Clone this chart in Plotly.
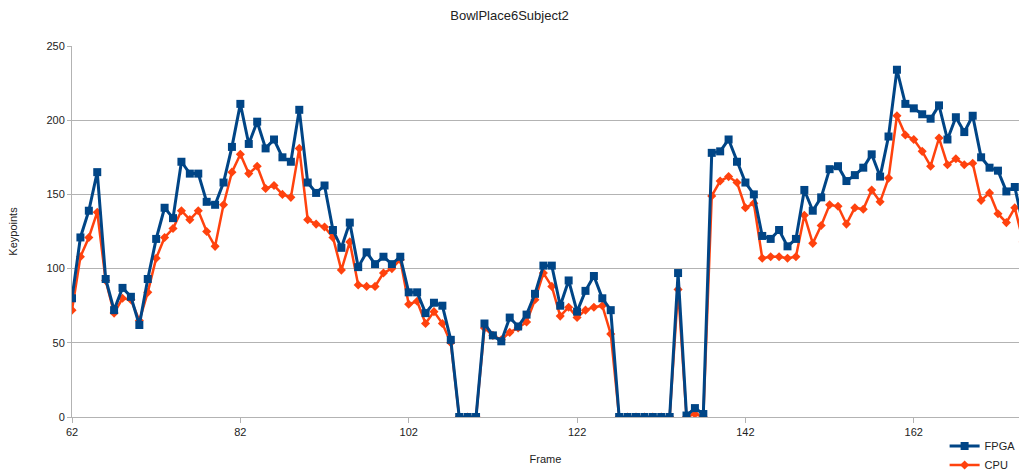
import plotly.graph_objects as go

frames = list(range(62, 176))

fpga = [80, 121, 139, 165, 93, 72, 87, 81, 62, 93,
        120, 141, 134, 172, 164, 164, 145, 143, 158, 182,
        211, 184, 199, 181, 187, 175, 172, 207, 158, 151,
        156, 126, 114, 131, 101, 111, 103, 108, 103, 108,
        84, 84, 70, 77, 75, 52, 0, 0, 0, 63,
        55, 51, 67, 61, 69, 83, 102, 102, 75, 92,
        71, 85, 95, 80, 72, 0, 0, 0, 0, 0,
        0, 0, 97, 1, 6, 2, 178, 179, 187, 172,
        158, 150, 122, 120, 126, 115, 120, 153, 139, 148,
        167, 169, 159, 163, 168, 177, 162, 189, 234, 211,
        208, 204, 201, 210, 187, 202, 192, 203, 175, 168,
        166, 152, 155, 129]

cpu = [72, 108, 121, 138, 92, 70, 80, 79, 65, 84,
       107, 121, 127, 139, 133, 139, 125, 115, 143, 165,
       177, 164, 169, 154, 156, 150, 148, 181, 133, 130,
       128, 121, 99, 118, 89, 88, 88, 97, 100, 106,
       76, 78, 63, 71, 63, 50, 0, 0, 0, 60,
       55, 52, 57, 60, 64, 79, 97, 88, 68, 74,
       67, 72, 74, 75, 56, 0, 0, 0, 0, 0,
       0, 0, 86, 0, 2, 0, 149, 159, 162, 158,
       141, 144, 107, 108, 108, 107, 108, 136, 117, 129,
       143, 142, 130, 141, 140, 153, 145, 161, 203, 190,
       187, 179, 169, 188, 170, 174, 170, 171, 146, 151,
       137, 131, 141, 118]

x_ticks = [62, 82, 102, 122, 142, 162]
y_ticks = [0, 50, 100, 150, 200, 250]

BLUE = "#004586"
ORANGE = "#ff420e"
FONT = "Liberation Sans, Arial, sans-serif"

fig = go.Figure()
fig.add_trace(go.Scatter(
    x=frames, y=cpu, name="CPU", mode="lines+markers",
    line=dict(color=ORANGE, width=2.5),
    marker=dict(symbol="diamond", size=7, color=ORANGE),
    legendrank=2,
))
fig.add_trace(go.Scatter(
    x=frames, y=fpga, name="FPGA", mode="lines+markers",
    line=dict(color=BLUE, width=3),
    marker=dict(symbol="square", size=8, color=BLUE),
    legendrank=1,
))

fig.update_layout(
    width=1019, height=471,
    margin=dict(l=72, r=0, t=46, b=54, autoexpand=False),
    paper_bgcolor="white", plot_bgcolor="white",
    font=dict(family=FONT, size=11, color="#222222"),
    title=dict(text="BowlPlace6Subject2", x=0.5, xanchor="center",
               yref="container", y=0.976, yanchor="top", pad=dict(t=0, b=0),
               font=dict(family=FONT, size=13, color="#222222")),
    showlegend=True,
    legend=dict(xref="container", yref="container",
                x=0.927, xanchor="left", y=0.033, yanchor="middle",
                font=dict(family=FONT, size=11, color="#222222"),
                bgcolor="rgba(0,0,0,0)", tracegroupgap=0, itemwidth=30,
                borderwidth=0),
    xaxis=dict(
        range=[62, 174.5], tickvals=x_ticks, ticktext=[str(t) for t in x_ticks],
        showgrid=False, zeroline=False,
        showline=True, linecolor="#b3b3b3", linewidth=1,
        ticks="outside", ticklen=5, tickcolor="#b3b3b3",
        title=dict(text="Frame", standoff=18, font=dict(size=11)),
    ),
    yaxis=dict(
        range=[0, 250], tickvals=y_ticks,
        showgrid=True, gridcolor="#b3b3b3", gridwidth=1, zeroline=False,
        showline=True, linecolor="#b3b3b3", linewidth=1,
        ticks="outside", ticklen=4, tickcolor="#b3b3b3",
        title=dict(text="Keypoints", standoff=26, font=dict(size=11)),
    ),
)

fig.write_html("out.html", config={"displayModeBar": False},
               post_script="document.body.style.margin='0';document.body.style.overflow='hidden';")
